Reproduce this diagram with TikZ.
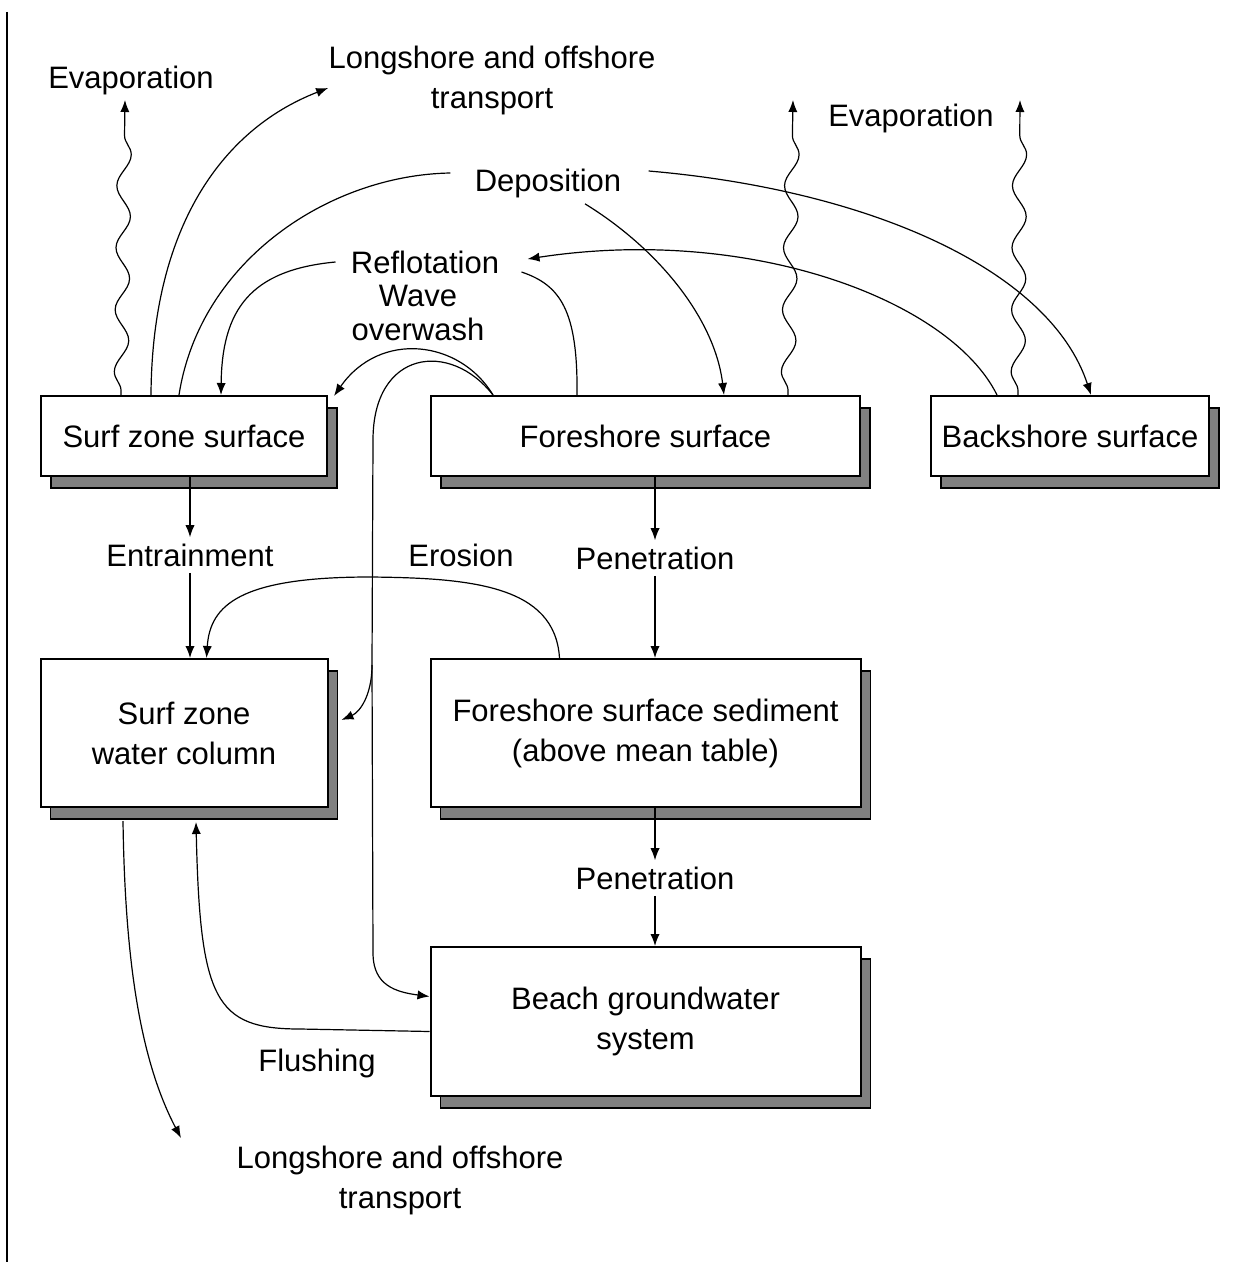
\documentclass[tikz,border=0pt]{standalone}
\usepackage{fontspec}
\setmainfont{Liberation Sans}
\usetikzlibrary{positioning,calc,arrows.meta,shadows,decorations.pathmorphing}

\begin{document}
\begin{tikzpicture}[
  x=0.5pt, y=-0.5pt,
  box/.style={draw, line width=1pt, fill=white, align=center, inner sep=2pt, font=\fontsize{15.5}{20}\selectfont,
    general shadow={fill=black!50, draw=black, line width=0.6pt, shadow xshift=5pt, shadow yshift=-6pt}},
  lbl/.style={align=center, inner sep=3pt, font=\fontsize{15.5}{20}\selectfont},
  arr/.style={-{Latex[length=6pt,width=4.6pt]}, line width=0.6pt},
  link/.style={line width=0.6pt},
  wavy/.style={arr, decorate, decoration={snake, amplitude=3.5pt, segment length=31pt, pre length=2pt, post length=8pt}}
]
\useasboundingbox (0,0) rectangle (1239,1262);
\draw[line width=1pt] (7,12) -- (7,1262);

\node[box, minimum width=143pt, minimum height=40pt] (szs) at (184,436) {Surf zone surface};
\node[box, minimum width=214.5pt, minimum height=40pt, right=51pt of szs] (fs) {Foreshore surface};
\node[box, minimum width=139pt, minimum height=40pt, right=34.5pt of fs] (bs) {Backshore surface};
\node[box, minimum width=143.5pt, minimum height=74pt, below=90.5pt of szs] (szw) {Surf zone\\water column};
\node[box, minimum width=215pt, minimum height=74pt, below=90.5pt of fs] (fss) {Foreshore surface sediment\\(above mean table)};
\node[box, minimum width=215pt, minimum height=74.5pt, below=69pt of fss] (bgw) {Beach groundwater\\system};

\node[lbl] (evapL) at (131,80) {Evaporation};
\node[lbl] (lsTop) at (492,80) {Longshore and offshore\\transport};
\node[lbl] (evapR) at (911,118) {Evaporation};
\node[lbl] (depo) at (548,183) {Deposition};
\node[lbl] (reflo) at (425,262) {Reflotation};
\node[lbl, font=\fontsize{15.5}{17}\selectfont] (ovw) at (418,313) {Wave\\overwash};
\node[lbl] (entr) at (190,555) {Entrainment};
\node[lbl] (eros) at (461,555) {Erosion};
\node[lbl] (pen1) at (655,558) {Penetration};
\node[lbl] (pen2) at (655,878) {Penetration};
\node[lbl] (flush) at (317,1063) {Flushing};
\node[lbl] (lsBot) at (400,1180) {Longshore and offshore\\transport};

\coordinate (evtipL) at (125,100);
\coordinate (evtipF) at (793,100);
\coordinate (evtipB) at (1020,100);
\coordinate (lsbtip) at (181,1138);
\coordinate (ovsplit) at (372,665);

\draw[wavy] ($(szs.north west)+(81,0)$) -- (evtipL);
\draw[wavy] ($(fs.north west)+(358,0)$) -- (evtipF);
\draw[wavy] ($(bs.north west)+(88,0)$) -- (evtipB);

\draw[arr] ($(szs.north west)+(111,0)$) .. controls (152,230) and (220,130) .. ($(lsTop.west)+(6,8)$);

\draw[link] ($(szs.north west)+(139,0)$) .. controls (200,260) and (330,175) .. ($(depo.west)+(-18,-10)$);
\draw[arr] ($(depo.south)+(37,0)$) .. controls (660,250) and (715,320) .. ($(fs.north west)+(294,0)$);
\draw[arr] ($(depo.east)+(21,-12)$) .. controls (870,190) and (1050,270) .. ($(bs.north west)+(161,0)$);

\draw[link] ($(fs.north west)+(147,0)$) .. controls (578,310) and (560,285) .. ($(reflo.east)+(16,10)$);
\draw[arr] ($(bs.north west)+(67,0)$) .. controls (950,300) and (750,225) .. ($(reflo.east)+(22,-3)$);
\draw[arr] ($(reflo.west)+(-9,0)$) .. controls (250,270) and (222,310) .. ($(szs.north west)+(181,0)$);

\draw[arr] ($(fs.north west)+(63,0)$) .. controls (460,340) and (380,330) .. ($(szs.north east)+(6,1)$);
\draw[link] ($(fs.north west)+(63,0)$) .. controls (450,340) and (373,350) .. (373,440) -- (ovsplit);
\draw[arr] (ovsplit) .. controls (372,695) and (360,712) .. ($(szw.east)+(13,-13)$);
\draw[arr] (ovsplit) -- (373,955) .. controls (374,985) and (395,992) .. ($(bgw.west)+(0,-25)$);

\draw[arr] (szs.south -| entr.north) -- (entr.north);
\draw[arr] (entr.south) -- (entr.south |- szw.north);
\draw[arr] (fs.south -| pen1.north) -- (pen1.north);
\draw[arr] (pen1.south) -- (pen1.south |- fss.north);
\draw[arr] (fss.south -| pen2.north) -- (pen2.north);
\draw[arr] (pen2.south) -- (pen2.south |- bgw.north);

\draw[arr] ($(fss.north west)+(130,0)$) .. controls (555,585) and (470,578) .. (370,577) .. controls (240,577) and (210,605) .. ($(szw.north west)+(167,0)$);

\draw[arr] ($(bgw.west)+(0,10)$) -- (300,1029) .. controls (215,1029) and (200,1000) .. ($(szw.south)+(12,14)$);
\draw[arr] ($(szw.south)+(-61,13)$) .. controls (125,960) and (140,1060) .. (lsbtip);
\end{tikzpicture}
\end{document}
